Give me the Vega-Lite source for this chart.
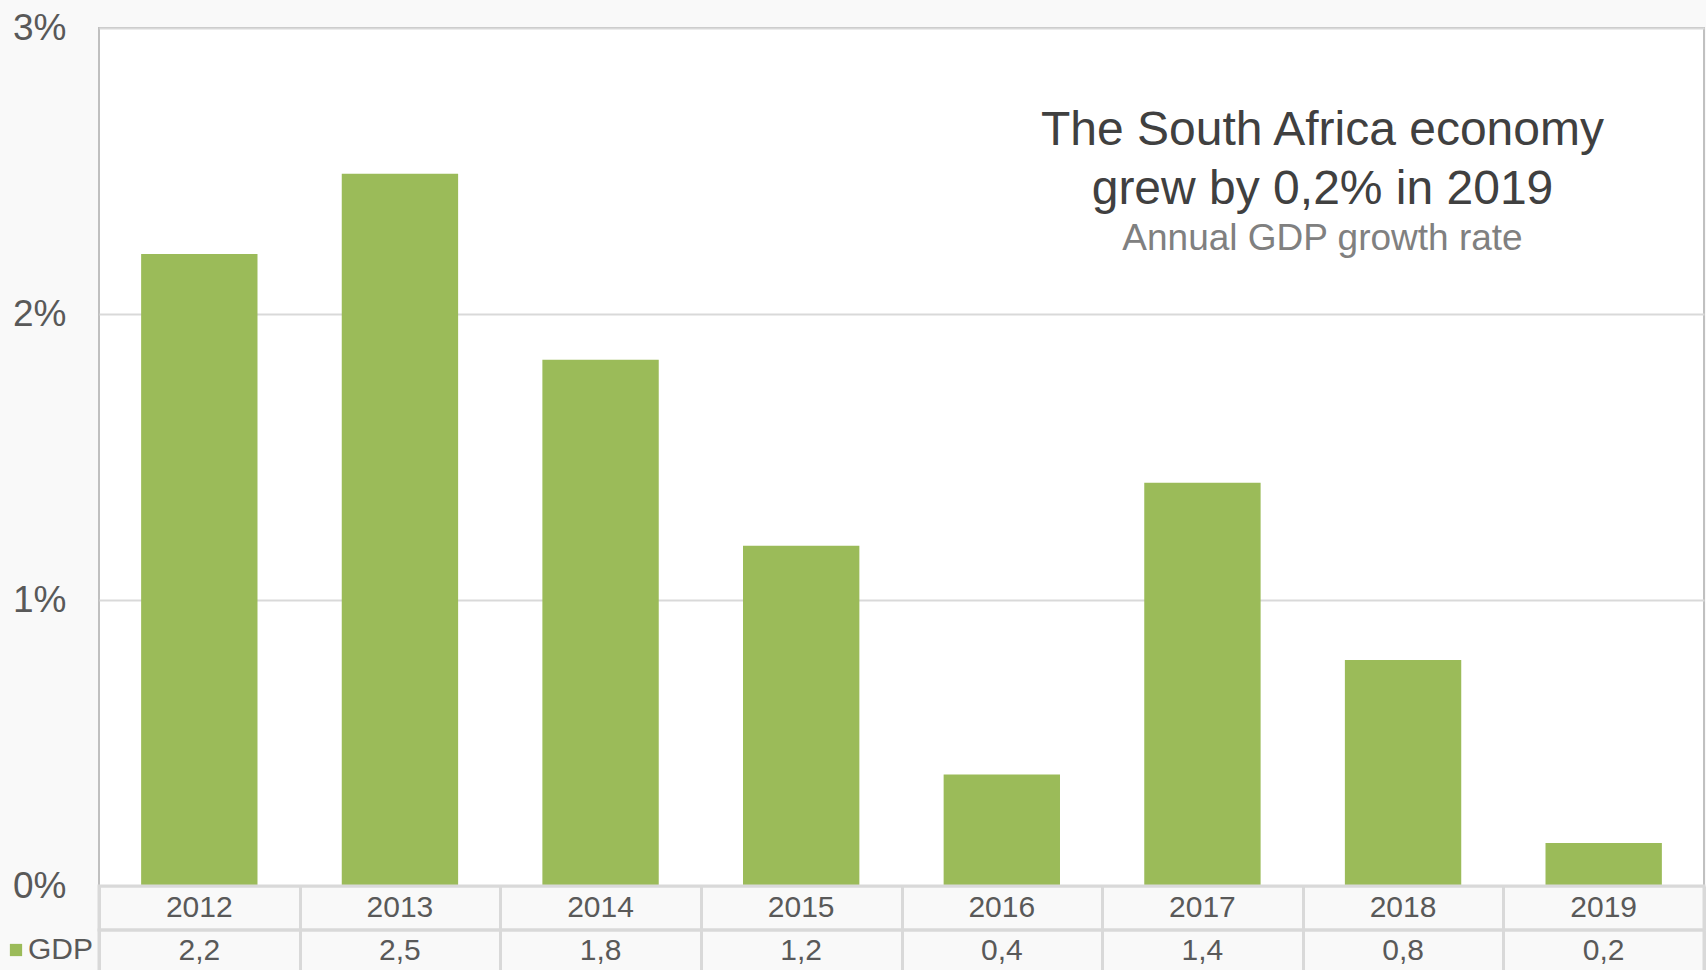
{
  "$schema": "https://vega.github.io/schema/vega-lite/v6.json",
  "background": "#f9f9f9",
  "padding": {"left": 1, "top": 8, "right": 0, "bottom": 0},
  "spacing": 0,
  "bounds": "flush",
  "config": {"font": "Liberation Sans"},
  "data": {"values": [
    {"year": "2012", "gdp": 2.21, "label": "2,2", "series": "GDP"},
    {"year": "2013", "gdp": 2.49, "label": "2,5", "series": "GDP"},
    {"year": "2014", "gdp": 1.84, "label": "1,8", "series": "GDP"},
    {"year": "2015", "gdp": 1.19, "label": "1,2", "series": "GDP"},
    {"year": "2016", "gdp": 0.39, "label": "0,4", "series": "GDP"},
    {"year": "2017", "gdp": 1.41, "label": "1,4", "series": "GDP"},
    {"year": "2018", "gdp": 0.79, "label": "0,8", "series": "GDP"},
    {"year": "2019", "gdp": 0.15, "label": "0,2", "series": "GDP"}
  ]},
  "vconcat": [
    {
      "width": 1605,
      "height": 858,
      "view": {"fill": "white", "stroke": "#c0c0c0", "strokeWidth": 2},
      "title": {
        "text": ["The South Africa economy", "grew by 0,2% in 2019"],
        "subtitle": "Annual GDP growth rate",
        "anchor": "middle",
        "frame": "group",
        "dx": 421,
        "offset": -248,
        "fontSize": 48,
        "fontWeight": "normal",
        "color": "#404040",
        "lineHeight": 59,
        "subtitleFontSize": 37,
        "subtitleColor": "#808080",
        "subtitlePadding": 7
      },
      "mark": {"type": "bar", "width": {"band": 0.58}},
      "encoding": {
        "x": {"field": "year", "type": "ordinal", "axis": null, "scale": {"paddingInner": 0, "paddingOuter": 0}},
        "y": {"field": "gdp", "type": "quantitative", "scale": {"domain": [0, 3]},
          "axis": {"values": [0, 1, 2, 3], "labelExpr": "datum.value + '%'", "labelFontSize": 37, "labelColor": "#595959",
            "labelPadding": 33, "ticks": false, "domain": false, "gridColor": "#d9d9d9", "gridWidth": 2, "title": null,
            "labelFlush": false, "labelOverlap": false}},
        "color": {"field": "series", "type": "nominal", "scale": {"range": ["#9bbb59"]},
          "legend": {"orient": "none", "legendX": -98, "legendY": 907, "title": null, "symbolType": "square", "symbolSize": 150,
            "symbolStrokeWidth": 0, "labelFontSize": 30, "labelColor": "#595959", "labelOffset": -3}}
      }
    },
    {
      "width": 1605,
      "height": 44,
      "view": {"stroke": "#d9d9d9", "strokeWidth": 3, "fill": null},
      "mark": {"type": "text", "fontSize": 30, "color": "#595959"},
      "encoding": {
        "x": {"field": "year", "type": "ordinal", "scale": {"paddingInner": 0, "paddingOuter": 0},
          "axis": {"grid": true, "tickBand": "extent", "gridColor": "#d9d9d9", "gridWidth": 3, "labels": false, "ticks": false, "domain": false, "title": null, "minExtent": 0}},
        "text": {"field": "year"}
      }
    },
    {
      "width": 1605,
      "height": 43,
      "view": {"stroke": "#d9d9d9", "strokeWidth": 3, "fill": null},
      "mark": {"type": "text", "fontSize": 30, "color": "#595959", "dy": -1},
      "encoding": {
        "x": {"field": "year", "type": "ordinal", "scale": {"paddingInner": 0, "paddingOuter": 0},
          "axis": {"grid": true, "tickBand": "extent", "gridColor": "#d9d9d9", "gridWidth": 3, "labels": false, "ticks": false, "domain": false, "title": null, "minExtent": 0}},
        "text": {"field": "label"}
      }
    }
  ]
}
